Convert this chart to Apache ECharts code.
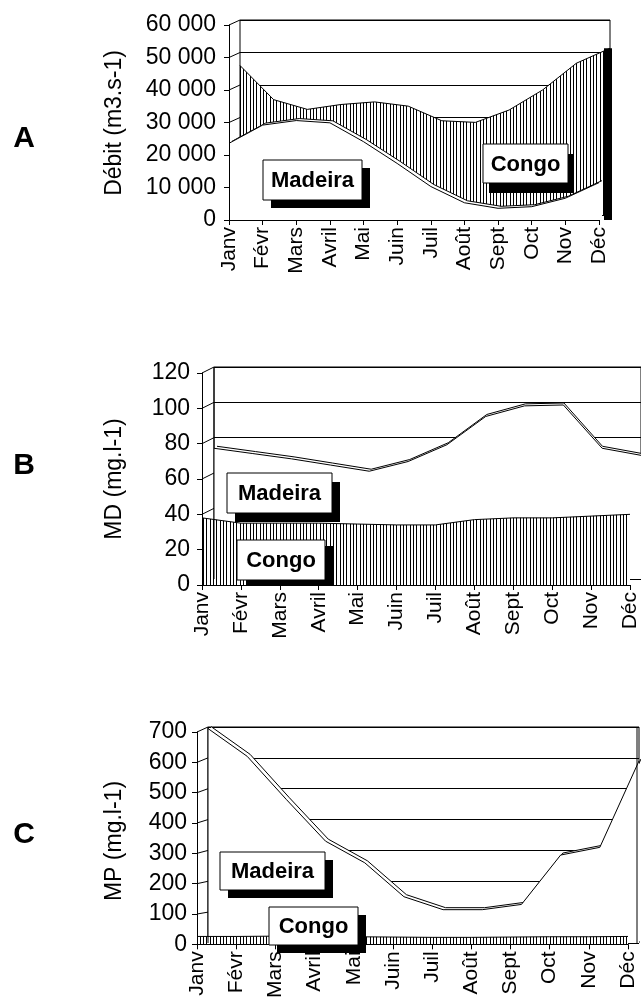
<!DOCTYPE html>
<html><head><meta charset="utf-8">
<script src="https://cdn.jsdelivr.net/npm/echarts/dist/echarts.min.js"></script>
<style>html,body{margin:0;padding:0;background:#fff}#c{width:641px;height:1001px}</style>
</head><body><div id="c"></div>
<script>
// ---------- data ----------
const months = ['Janv','Févr','Mars','Avril','Mai','Juin','Juil','Août','Sept','Oct','Nov','Déc'];
const debitMadeira = [23600, 29200, 30600, 29900, 24100, 17400, 10300, 5300, 3600, 4100, 6700, 11500];
const debitCongo   = [46000, 35500, 32500, 34000, 34800, 33500, 29000, 28500, 32300, 38500, 46700, 51300];
const mdMadeira = [74, 71, 68, 64.5, 61, 66.5, 76, 92, 98, 98.5, 74, 70];
const mdCongo   = [38, 35, 35, 35, 34.5, 34, 34, 37, 38, 38, 39, 40];
const mpMadeira = [695, 605, 465, 330, 260, 150, 108, 108, 125, 285, 310, 590];
const mpCongo   = [26, 26, 27, 26, 25, 24, 23, 23, 24, 25, 25, 26];
const ticksDebit = ['0', '10 000', '20 000', '30 000', '40 000', '50 000', '60 000'];
const ticksMD = ['0', '20', '40', '60', '80', '100', '120'];
const ticksMP = ['0', '100', '200', '300', '400', '500', '600', '700'];
const titles = ['Débit (m3.s-1)', 'MD (mg.l-1)', 'MP (mg.l-1)'];
const letters = ['A', 'B', 'C'];
const seriesNames = ['Madeira', 'Congo'];

// ---------- layout ----------
const FONT = "'Liberation Sans', Arial, Helvetica, sans-serif";
const panels = [
  { front: {left: 229, top: 25, width: 370, height: 195}, wall: [11, -5], rib: [3, -2],
    max: 60000, interval: 10000, ticks: ticksDebit, margin: 13,
    wallData: debitCongo, wallFill: 'hatch', mainOnFront: true, whiteData: debitMadeira,
    title: {x: 115, y: 123}, letter: {x: 24, y: 139}, edgeLeft: false, edgeRight: false, strip: true },
  { front: {left: 202, top: 373, width: 428, height: 212}, wall: [12, -6], rib: [15, -8],
    max: 120, interval: 20, ticks: ticksMD, margin: 12,
    frontData: mdCongo, whiteData: mdMadeira, mainOnFront: false,
    title: {x: 115, y: 479}, letter: {x: 24, y: 466}, edgeLeft: true, edgeRight: false },
  { front: {left: 197, top: 732, width: 431, height: 216}, wall: [11, -5], rib: [14, -7],
    max: 700, interval: 100, ticks: ticksMP, margin: 10,
    frontData: mpCongo, whiteData: mpMadeira, mainOnFront: false,
    title: {x: 115, y: 841}, letter: {x: 24, y: 835}, edgeLeft: true, edgeRight: true }
];
const boxes = [
  {name: 0, x: 263, y: 160, w: 99, h: 40, sx: 8, sy: 8},
  {name: 1, x: 483, y: 144, w: 85, h: 39, sx: 6, sy: 10},
  {name: 0, x: 227, y: 473, w: 105, h: 40, sx: 8, sy: 9},
  {name: 1, x: 237, y: 540, w: 88, h: 40, sx: 9, sy: 6},
  {name: 0, x: 220, y: 852, w: 105, h: 38, sx: 8, sy: 8},
  {name: 1, x: 269, y: 907, w: 89, h: 38, sx: 8, sy: 8}
];

function hatchPattern() {
  const c = document.createElement('canvas');
  c.width = 10; c.height = 10;
  const g = c.getContext('2d');
  g.fillStyle = '#fff'; g.fillRect(0, 0, 10, 10);
  g.fillStyle = '#000';
  [0, 3, 6].forEach(x => g.fillRect(x, 0, 1, 10));
  return c;
}
const HATCH = hatchPattern();

const grids = [], xAxes = [], yAxes = [], series = [];
function addPlane(p, off, opts) {
  const i = grids.length;
  grids.push({left: p.front.left + off[0], top: p.front.top + off[1], width: p.front.width, height: p.front.height,
    show: !!opts.wall, borderColor: '#000', borderWidth: 1, backgroundColor: 'transparent', containLabel: false});
  xAxes.push({type: 'category', gridIndex: i, data: months, boundaryGap: false, show: !!opts.axes, z: 10,
    axisLine: {show: true, lineStyle: {color: '#000', width: 1}},
    axisTick: {show: true, length: 5, interval: 0, lineStyle: {color: '#000'}},
    axisLabel: {show: true, interval: 0, rotate: 90, fontSize: 21, color: '#000', fontFamily: FONT, margin: 7},
    splitLine: {show: false}});
  yAxes.push({type: 'value', gridIndex: i, min: 0, max: p.max, interval: p.interval,
    show: !!(opts.axes || opts.wall), z: opts.axes ? 10 : 0,
    axisLine: {show: !!opts.axes, lineStyle: {color: '#000', width: 1}},
    axisTick: {show: !!opts.axes, length: 5, lineStyle: {color: '#000'}},
    axisLabel: {show: !!opts.axes, margin: p.margin, fontSize: 23, color: '#000', fontFamily: FONT,
      formatter: v => p.ticks[Math.round(v / p.interval)]},
    splitLine: {show: !!opts.wall, lineStyle: {color: '#000', width: 1}}});
  return i;
}
function area(gi, data, fill, z) {
  return {type: 'line', xAxisIndex: gi, yAxisIndex: gi, data: data, symbol: 'none', silent: true, z: z,
    lineStyle: {color: '#000', width: 1},
    areaStyle: {color: fill === 'hatch' ? {image: HATCH, repeat: 'repeat'} : '#fff', opacity: 1}};
}

panels.forEach(p => {
  if (p.mainOnFront) {
    p.gWall = addPlane(p, p.wall, {wall: true});
    p.gRib = addPlane(p, p.rib, {});
    p.gFront = addPlane(p, [0, 0], {axes: true});
    series.push(area(p.gWall, p.wallData, 'hatch', 2));
    series.push(area(p.gRib, p.whiteData, 'white', 3));
    series.push(area(p.gFront, p.whiteData, 'white', 4));
    if (p.strip) {
      series.push({type: 'custom', xAxisIndex: p.gWall, yAxisIndex: p.gWall, silent: true, z: 3,
        data: [[months.length - 1, p.wallData[p.wallData.length - 1]]],
        renderItem: (params, api) => {
          const t = api.coord([api.value(0), api.value(1)]);
          const b = api.coord([api.value(0), 0]);
          return {type: 'rect', shape: {x: t[0] - 6, y: t[1], width: 8, height: b[1] - t[1] + 5}, style: {fill: '#000'}};
        }});
    }
  } else {
    p.gRib = addPlane(p, p.rib, {});
    p.gWall = addPlane(p, p.wall, {wall: true});
    p.gFront = addPlane(p, [0, 0], {axes: true});
    series.push(area(p.gRib, p.whiteData, 'white', 2));
    series.push(area(p.gWall, p.whiteData, 'white', 3));
    series.push(area(p.gFront, p.frontData, 'hatch', 4));
  }
});

const chart = echarts.init(document.getElementById('c'), null, {renderer: 'canvas'});
chart.setOption({animation: false, backgroundColor: '#fff', grid: grids, xAxis: xAxes, yAxis: yAxes, series: series});

// graphics: side-wall edges, titles, letters, label boxes
const gfx = [];
panels.forEach((p, k) => {
  const n = p.ticks.length;
  for (let t = 0; t < n; t++) {
    const v = t * p.interval;
    const a = chart.convertToPixel({xAxisIndex: p.gFront, yAxisIndex: p.gFront}, [0, v]);
    const b = chart.convertToPixel({xAxisIndex: p.gWall, yAxisIndex: p.gWall}, [0, v]);
    gfx.push({type: 'line', z: 1, silent: true, shape: {x1: a[0], y1: a[1], x2: b[0], y2: b[1]}, style: {stroke: '#000', lineWidth: 1}});
  }
  if (p.edgeLeft) {
    const a = chart.convertToPixel({xAxisIndex: p.gWall, yAxisIndex: p.gWall}, [0, p.max]);
    const b = chart.convertToPixel({xAxisIndex: p.gWall, yAxisIndex: p.gWall}, [0, 0]);
    gfx.push({type: 'line', z: 50, silent: true, shape: {x1: a[0], y1: a[1], x2: b[0], y2: b[1]}, style: {stroke: '#000', lineWidth: 1}});
  }
  if (p.edgeRight) {
    const a = chart.convertToPixel({xAxisIndex: p.gWall, yAxisIndex: p.gWall}, [months.length - 1, p.max]);
    const b = chart.convertToPixel({xAxisIndex: p.gWall, yAxisIndex: p.gWall}, [months.length - 1, 0]);
    gfx.push({type: 'line', z: 50, silent: true, shape: {x1: a[0] - 2, y1: a[1], x2: b[0] - 2, y2: b[1]}, style: {stroke: '#000', lineWidth: 1}});
  }
  gfx.push({type: 'text', x: p.title.x, y: p.title.y, rotation: Math.PI / 2, z: 60, silent: true,
    style: {text: titles[k], font: '23px ' + FONT, fill: '#000', textAlign: 'center', textVerticalAlign: 'middle'}});
  gfx.push({type: 'text', x: p.letter.x, y: p.letter.y, z: 60, silent: true,
    style: {text: letters[k], font: 'bold 30px ' + FONT, fill: '#000', textAlign: 'center', textVerticalAlign: 'middle'}});
});
boxes.forEach(b => {
  gfx.push({type: 'rect', z: 100, silent: true, shape: {x: b.x + b.sx, y: b.y + b.sy, width: b.w, height: b.h}, style: {fill: '#000'}});
  gfx.push({type: 'rect', z: 101, silent: true, shape: {x: b.x, y: b.y, width: b.w, height: b.h}, style: {fill: '#fff', stroke: '#000', lineWidth: 1}});
  gfx.push({type: 'text', z: 102, silent: true, x: b.x + b.w / 2, y: b.y + b.h / 2 + 1,
    style: {text: seriesNames[b.name], font: 'bold 22px ' + FONT, fill: '#000', textAlign: 'center', textVerticalAlign: 'middle'}});
});
chart.setOption({graphic: {elements: gfx}});
</script>
</body></html>
